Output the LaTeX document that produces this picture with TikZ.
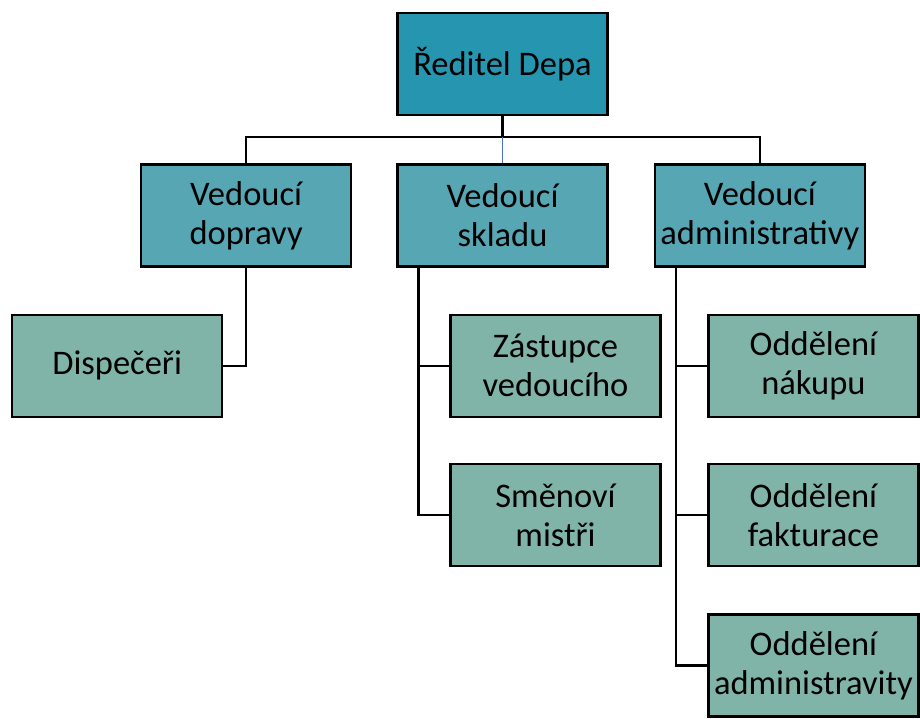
\documentclass[tikz,border=0pt]{standalone}
\usepackage{fontspec}
\setmainfont{Carlito}
\usepackage{xcolor}
\usetikzlibrary{positioning}

\definecolor{chieffill}{RGB}{38,150,176}
\definecolor{headfill}{RGB}{86,166,180}
\definecolor{unitfill}{RGB}{128,180,168}
\definecolor{buslink}{RGB}{68,114,196}

\begin{document}
\begin{tikzpicture}[
            x=1pt, y=1pt,
            every node/.style={rectangle, draw, line width=2.4pt, minimum width=210pt, minimum height=102pt,
                inner sep=0pt, align=center, font=\fontsize{34.5}{39}\selectfont},
            chief/.style={fill=chieffill},
            head/.style={fill=headfill},
            unit/.style={fill=unitfill},
            link style/.style={line width=2.4pt}
        ]
        \useasboundingbox (0,0) rectangle (920,718);

        \node[chief] (director) at (502.5,654) {Ředitel Depa};
        \node[head] (storage) [below=47pt of director] {Vedoucí\\skladu};
        \node[head] (transport) [left=44pt of storage] {Vedoucí\\dopravy};
        \node[head] (admin) [right=45pt of storage] {Vedoucí\\administrativy};

        \node[unit] (dispatch) [below=46pt of transport, xshift=-129pt] {Dispečeři};
        \node[unit] (deputy) [below=46pt of storage, xshift=53pt] {Zástupce\\vedoucího};
        \node[unit] (foremen) [below=45pt of deputy] {Směnoví\\mistři};
        \node[unit] (purchase) [below=46pt of admin, xshift=53.5pt] {Oddělení\\nákupu};
        \node[unit] (billing) [below=45pt of purchase] {Oddělení\\fakturace};
        \node[unit] (office) [below=46pt of billing] {Oddělení\\administravity};

        \coordinate[below=21pt of director.south] (bus);

        \draw[link style] (director.south) -- (bus);
        \draw[link style] (bus) -| (transport.north);
        \draw[link style] (bus) -| (admin.north);
        \draw[link style, buslink, line width=1.6pt] (bus) -- (storage.north);

        \draw[link style] (transport.south) |- (dispatch.east);
        \draw[link style] ([xshift=22pt]storage.south west) |- (deputy.west);
        \draw[link style] ([xshift=22pt]storage.south west) |- (foremen.west);
        \draw[link style] ([xshift=22pt]admin.south west) |- (purchase.west);
        \draw[link style] ([xshift=22pt]admin.south west) |- (billing.west);
        \draw[link style] ([xshift=22pt]admin.south west) |- (office.west);
        \end{tikzpicture}
\end{document}
